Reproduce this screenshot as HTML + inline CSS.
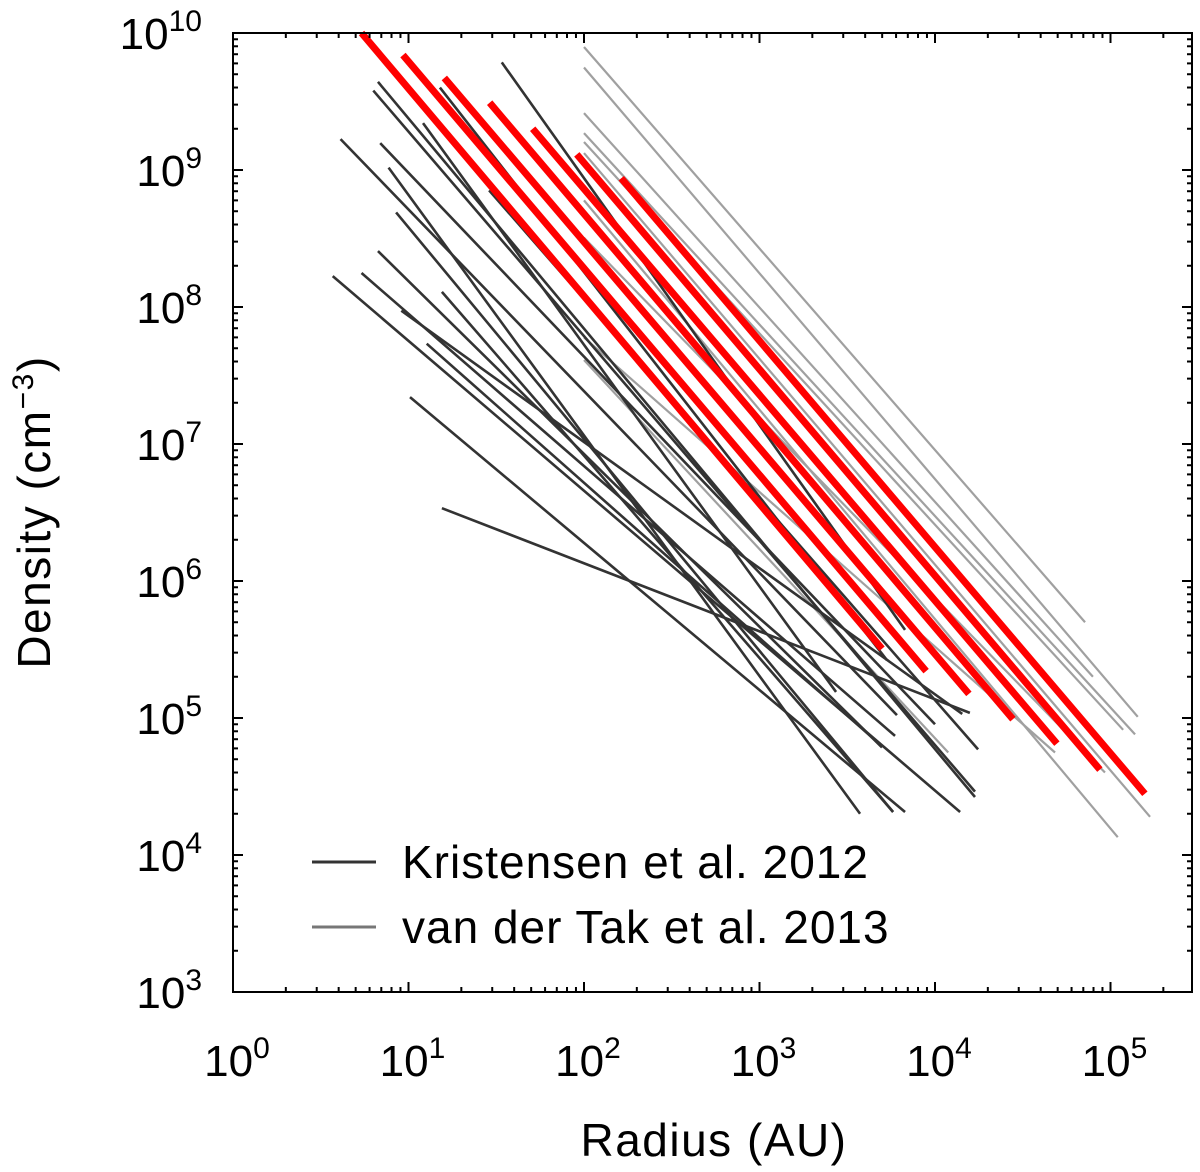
<!DOCTYPE html>
<html><head><meta charset="utf-8"><style>
html,body{margin:0;padding:0;background:#fff;}
svg{display:block;font-family:"Liberation Sans","DejaVu Sans",sans-serif;}
</style></head><body>
<svg id="chart" width="1200" height="1172" viewBox="0 0 1200 1172" xmlns="http://www.w3.org/2000/svg">
<g id="marks"></g>
<rect x="233" y="33" width="959" height="959" fill="none" stroke="#000" stroke-width="2"/>
<g id="ticks"></g>
<g id="labels" font-size="44"></g>
<text x="714" y="1156" font-size="46" letter-spacing="1.5" text-anchor="middle">Radius (AU)</text>
<text transform="translate(50,512) rotate(-90)" font-size="46" letter-spacing="1.5" text-anchor="middle">Density (cm<tspan font-size="30" dy="-17">−3</tspan><tspan dy="17">)</tspan></text>
<g>
<line x1="312" y1="862" x2="376" y2="862" stroke="#333" stroke-width="3"/>
<text x="402" y="878" font-size="46" letter-spacing="1">Kristensen et al. 2012</text>
<line x1="312" y1="927" x2="376" y2="927" stroke="#777" stroke-width="3"/>
<text x="402" y="943" font-size="46" letter-spacing="1">van der Tak et al. 2013</text>
</g>
</svg>
<script>
// Kristensen et al. 2012 (dark)
const darkR1 = [34,6.7,6.3,15.1,12.1,4.1,6.9,7.7,8.5,28.8,6.7,5.4,3.7,9.1,12.7,10.2,15.5,15.5];
const darkN1 = [6.1e9,4.4e9,3.8e9,4.0e9,2.2e9,1.68e9,1.57e9,1.04e9,4.9e8,7.1e8,2.56e8,1.77e8,1.68e8,9.4e7,5.4e7,2.2e7,3.4e6,1.29e8];
const darkR2 = [6750,16900,16900,5320,2730,6070,10000,3740,5770,17600,4990,5920,13900,14300,4860,6750,15800,5770];
const darkN2 = [4.4e5,2.65e4,2.9e4,2.65e5,1.55e5,1.05e5,9.0e4,2.0e4,2.06e4,5.9e4,6.1e4,7.4e4,2.06e4,1.07e5,6.4e4,2.06e4,1.09e5,2.06e4];
// van der Tak et al. 2013 (gray)
const grayR1 = [100,100,100,100,100,100,100,100,100,100];
const grayN1 = [7.9e9,5.6e9,2.6e9,1.86e9,1.6e9,1.33e9,6.0e8,3.2e8,6.0e7,4.1e7];
const grayR2 = [71600,143000,79400,138000,118000,168000,110000,93000,48300,11900];
const grayN2 = [5.0e5,1.02e5,2.0e5,7.6e4,8.2e4,1.9e4,1.35e4,4.0e4,5.6e4,5.6e4];
// model profiles (red)
const redR1 = [5.4,9.3,16,29,51,91,163];
const redN1 = [1e10,6.9e9,4.7e9,3.1e9,2.0e9,1.3e9,8.7e8];
const redR2 = [4990,8900,15600,27800,49500,87000,157000];
const redN2 = [3.2e5,2.2e5,1.5e5,9.8e4,6.5e4,4.2e4,2.8e4];
const xTickExp = [0,1,2,3,4,5];
const yTickExp = [3,4,5,6,7,8,9,10];

const X0=233, X1=1192, Y0=992, Y1=33;
const XMIN=0, XMAX=(1192-233)/175.5, YMIN=3, YMAX=10;
function xs(v){return X0+(Math.log10(v)-XMIN)/(XMAX-XMIN)*(X1-X0);}
function ys(v){return Y0-(Math.log10(v)-YMIN)/(YMAX-YMIN)*(Y0-Y1);}
const NS="http://www.w3.org/2000/svg";
const marks=document.getElementById('marks');
function drawSet(r1,n1,r2,n2,color,w,name){
  for(let i=0;i<r1.length;i++){
    const l=document.createElementNS(NS,'line');
    l.setAttribute('x1',xs(r1[i]));l.setAttribute('y1',ys(n1[i]));
    l.setAttribute('x2',xs(r2[i]));l.setAttribute('y2',ys(n2[i]));
    l.setAttribute('stroke',color);l.setAttribute('stroke-width',w);
    
    
    marks.appendChild(l);
  }
}
drawSet(grayR1,grayN1,grayR2,grayN2,'#a0a0a0',2.2,'vandertak-profile');
drawSet(darkR1,darkN1,darkR2,darkN2,'#333333',2.6,'kristensen-profile');
drawSet(redR1,redN1,redR2,redN2,'#ff0000',7,'model-profile');

const ticks=document.getElementById('ticks');
function tk(x1,y1,x2,y2){
  const l=document.createElementNS(NS,'line');
  l.setAttribute('x1',x1);l.setAttribute('y1',y1);l.setAttribute('x2',x2);l.setAttribute('y2',y2);
  l.setAttribute('stroke','#000');l.setAttribute('stroke-width',2);
  
  
  ticks.appendChild(l);
}
for(let d=0;d<=5;d++){for(let m=1;m<10;m++){const v=Math.pow(10,d)*m;const x=xs(v);if(x>X1)break;const L=m===1?10:5;tk(x,Y0,x,Y0-L);tk(x,Y1,x,Y1+L);}}
for(let d=3;d<10;d++){for(let m=1;m<10;m++){const y=ys(Math.pow(10,d)*m);const L=m===1?10:5;tk(X0,y,X0+L,y);tk(X1,y,X1-L,y);}}
tk(X0,Y1,X0+10,Y1);tk(X1,Y1,X1-10,Y1);

const labels=document.getElementById('labels');
function lab(x,y,e,anchor,name){
  const t=document.createElementNS(NS,'text');
  t.setAttribute('x',x);t.setAttribute('y',y);t.setAttribute('text-anchor',anchor);
  t.innerHTML='10<tspan font-size="30" dy="-18">'+e+'</tspan>';
  
  
  labels.appendChild(t);
}
xTickExp.forEach(e=>lab(xs(Math.pow(10,e))+4,1076,e,'middle','x-tick-label'));
yTickExp.forEach(e=>lab(202,ys(Math.pow(10,e))+16,e,'end','y-tick-label'));
</script>
</body></html>
